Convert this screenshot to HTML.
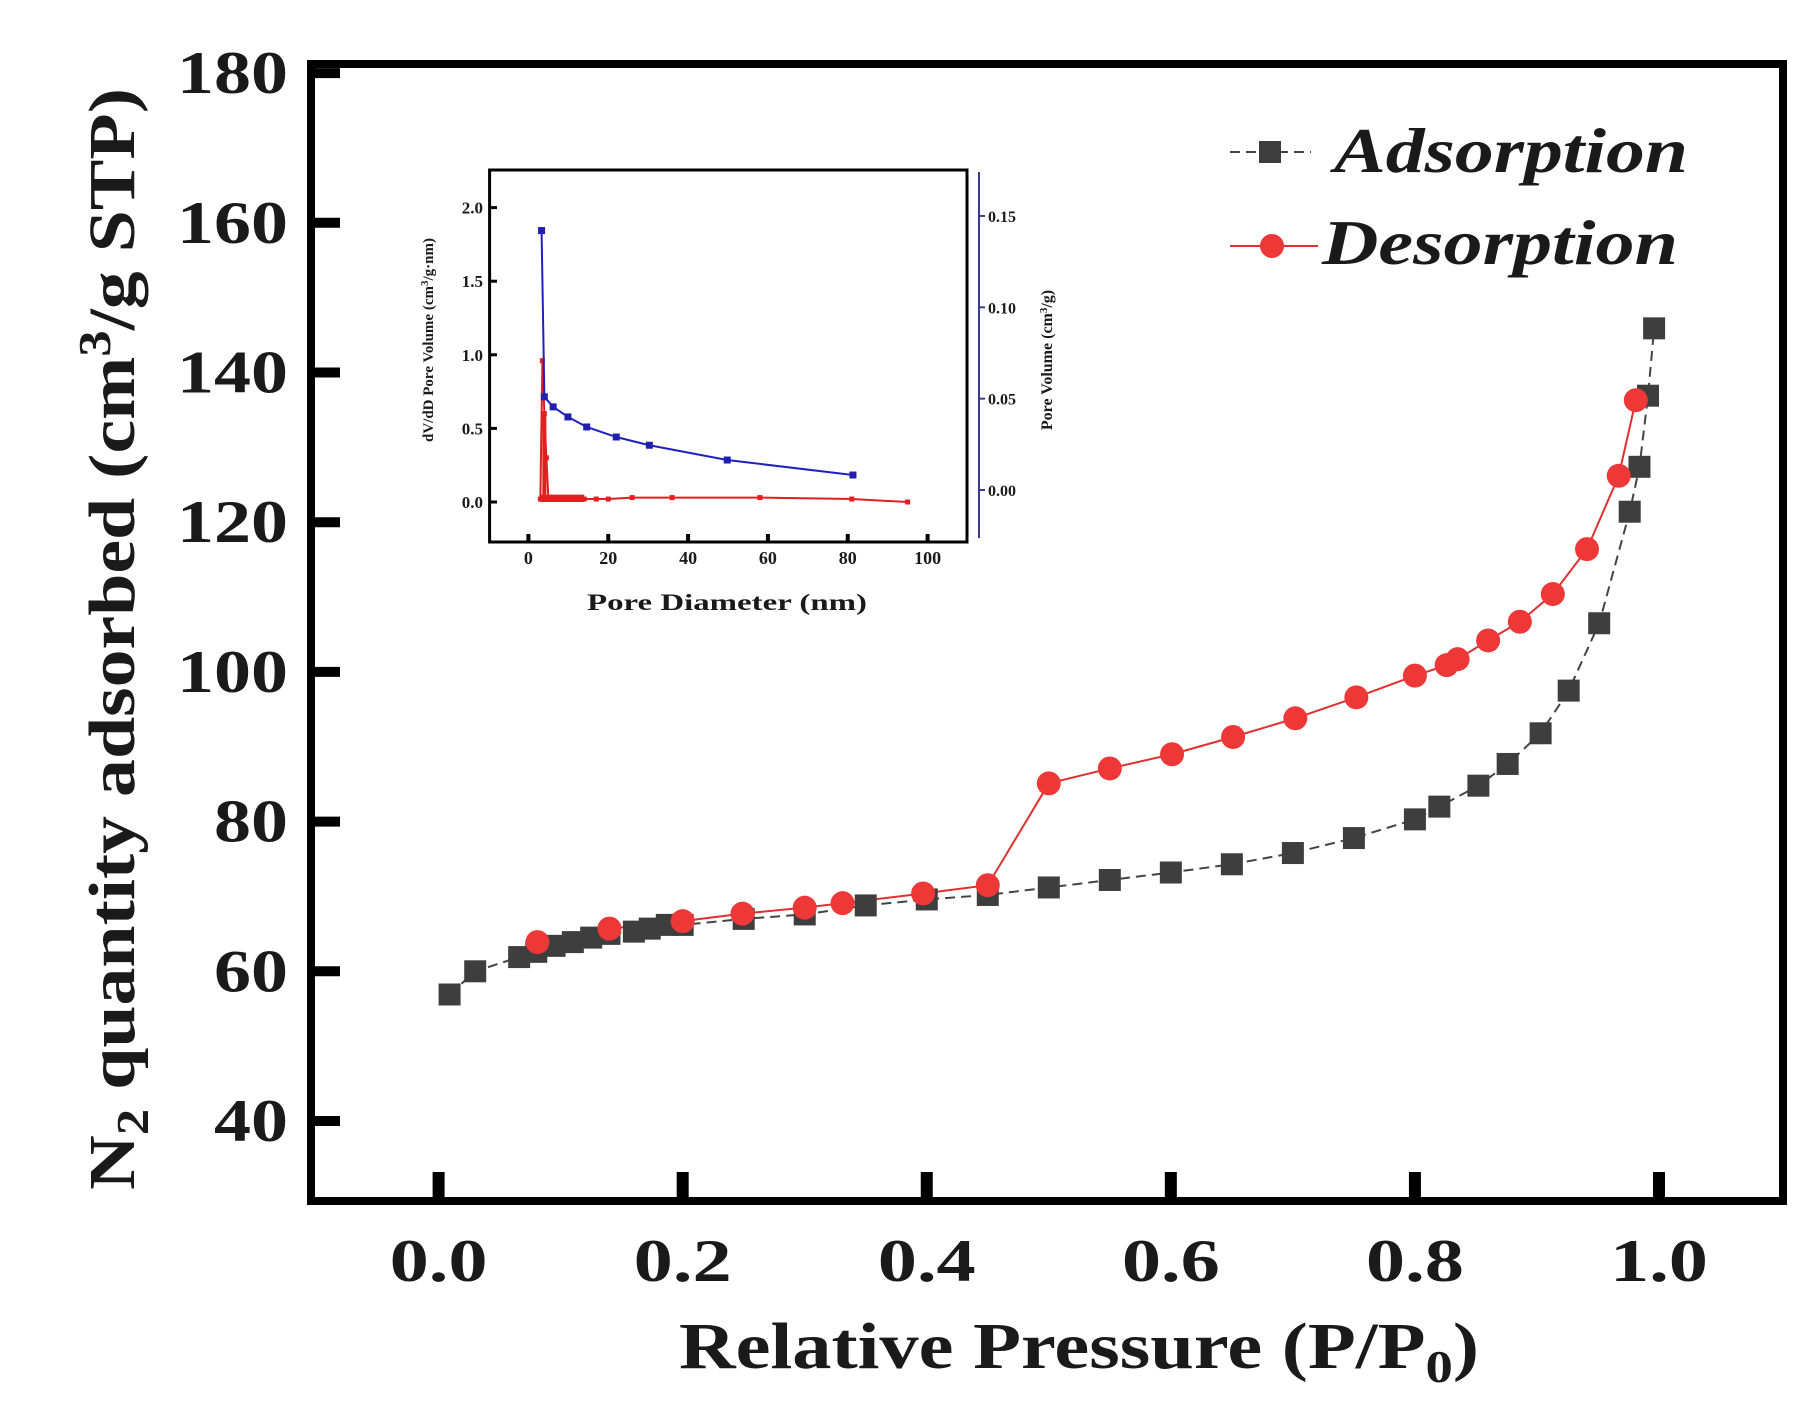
<!DOCTYPE html>
<html><head><meta charset="utf-8"><style>
html,body{margin:0;padding:0;background:#fff}
svg{display:block}
text{font-family:"Liberation Serif",serif;font-weight:bold;fill:#1a1a1a}
</style></head><body>
<svg id="chart" width="1819" height="1412" viewBox="0 0 1819 1412" xmlns="http://www.w3.org/2000/svg">
<g id="main"></g>
<g id="inset"></g>
</svg>
<script>
// main chart data
const adsP=[0.009,0.03,0.066,0.08,0.095,0.11,0.125,0.14,0.16,0.173,0.187,0.2,0.25,0.3,0.35,0.4,0.45,0.5,0.55,0.6,0.65,0.7,0.75,0.8,0.82,0.852,0.876,0.903,0.926,0.951,0.976,0.984,0.991,0.996];
const adsQ=[56.9,60,61.9,62.6,63.4,63.9,64.5,65,65.3,65.7,66.2,66.2,67,67.6,68.8,69.6,70.2,71.2,72.2,73.2,74.3,75.8,77.8,80.3,82,84.8,87.7,91.8,97.5,106.5,121.4,127.4,136.9,145.9];
const desP=[0.981,0.967,0.941,0.913,0.886,0.86,0.835,0.826,0.8,0.752,0.702,0.651,0.601,0.55,0.5,0.45,0.397,0.331,0.3,0.249,0.2,0.14,0.081];
const desQ=[136.3,126.2,116.4,110.4,106.7,104.2,101.7,100.9,99.5,96.6,93.8,91.3,89,87.1,85.1,71.5,70.4,69.1,68.5,67.7,66.7,65.7,63.9];
const xTicks=[0,0.2,0.4,0.6,0.8,1.0];
const xTickLabels=["0.0","0.2","0.4","0.6","0.8","1.0"];
const yTicks=[40,60,80,100,120,140,160,180];
// inset data
const blueD=[3.3,4,6.2,9.9,14.6,22,30.3,49.8,81.3];
const blueV=[0.142,0.051,0.0455,0.040,0.0345,0.029,0.0245,0.0164,0.0082];
const redD=[3,3.5,4,4.5,5,6,8,10,12,14,17,20,26,36,58,81,95];
const redV=[0.02,0.96,0.6,0.3,0.03,0.02,0.02,0.02,0.02,0.02,0.02,0.02,0.03,0.03,0.03,0.02,0.0];
const insetXTicks=[0,20,40,60,80,100];
const insetYTicks=[0,0.5,1.0,1.5,2.0];
const insetY2Ticks=[0,0.05,0.10,0.15];

const NS="http://www.w3.org/2000/svg";
function mk(parent,tag,attrs,txt){const e=document.createElementNS(NS,tag);for(const k in attrs)e.setAttribute(k,attrs[k]);if(txt!==undefined)e.textContent=txt;parent.appendChild(e);return e;}
const xS=p=>438.6+p*1220.4;
const yS=q=>1121-(q-40)*7.485;
const M=document.getElementById('main');
let f=mk(M,'rect',{x:311,y:64,width:1472,height:1137,fill:'none',stroke:'#000','stroke-width':8});


xTicks.forEach((t,i)=>{
  let tk=mk(M,'line',{x1:xS(t),x2:xS(t),y1:1201,y2:1172,stroke:'#000','stroke-width':12});
  
  
  let l=mk(M,'text',{x:xS(t),y:1281,'text-anchor':'middle','font-size':60,textLength:98,lengthAdjust:'spacingAndGlyphs'},xTickLabels[i]);
  
  
});
yTicks.forEach(t=>{
  let tk=mk(M,'line',{x1:311,x2:340,y1:yS(t),y2:yS(t),stroke:'#000','stroke-width':10});
  
  
  let s=String(t);
  let l=mk(M,'text',{x:288,y:yS(t)+20,'text-anchor':'end','font-size':60,textLength:s.length*37,lengthAdjust:'spacingAndGlyphs'},s);
  
  
});
function poly(xs,ys,col,name){let d=xs.map((x,i)=>xS(x)+','+yS(ys[i])).join(' ');let p=mk(M,'polyline',{points:d,fill:'none',stroke:col,'stroke-width':2,'stroke-dasharray':name==='adsorption-line'?'10,6':'none'});}
poly(adsP,adsQ,'#444','adsorption-line');
poly(desP,desQ,'#e03030','desorption-line');
adsP.forEach((p,i)=>{let r=mk(M,'rect',{x:xS(p)-11,y:yS(adsQ[i])-11,width:22,height:22,fill:'#3e3e3e'});});
desP.forEach((p,i)=>{let c=mk(M,'circle',{cx:xS(p),cy:yS(desQ[i]),r:12,fill:'#ee3838'});});
let xt=mk(M,'text',{x:679,y:1368,'font-size':66,textLength:800,lengthAdjust:'spacingAndGlyphs'});


xt.innerHTML='Relative Pressure (P/P<tspan dy="14" font-size="46">0</tspan><tspan dy="-14">)</tspan>';
let yt=mk(M,'text',{x:0,y:0,'font-size':66,textLength:1102,lengthAdjust:'spacingAndGlyphs',transform:'translate(134,1190) rotate(-90)'});


yt.innerHTML='N<tspan dy="14" font-size="46">2</tspan><tspan dy="-14"> quantity adsorbed  (cm</tspan><tspan dy="-24" font-size="46">3</tspan><tspan dy="24">/g STP)</tspan>';
let lg=mk(M,'g',{});


mk(lg,'line',{x1:1230,x2:1311,y1:152,y2:152,stroke:'#444','stroke-width':2,'stroke-dasharray':'10,6'});
mk(lg,'rect',{x:1259,y:141,width:22,height:22,fill:'#3e3e3e'});
let t1=mk(lg,'text',{x:1334,y:172,'font-size':64,'font-style':'italic',textLength:354,lengthAdjust:'spacingAndGlyphs'},'Adsorption');


mk(lg,'line',{x1:1230,x2:1318,y1:246,y2:246,stroke:'#e03030','stroke-width':2});
mk(lg,'circle',{cx:1272,cy:246,r:12,fill:'#ee3838'});
let t2=mk(lg,'text',{x:1322,y:264,'font-size':64,'font-style':'italic',textLength:356,lengthAdjust:'spacingAndGlyphs'},'Desorption');



// inset
const I=document.getElementById('inset');
const ix=d=>528.4+d*3.992;
const iy=v=>502-v*147.2;
const iy2=v=>490-v*1827;
let fr=mk(I,'rect',{x:489.6,y:170,width:477.4,height:372,fill:'#fff',stroke:'#000','stroke-width':3});


let ax2=mk(I,'line',{x1:979,x2:979,y1:172,y2:538,stroke:'#3a3a90','stroke-width':2});


insetXTicks.forEach(t=>{mk(I,'line',{x1:ix(t),x2:ix(t),y1:542,y2:534,stroke:'#000','stroke-width':4});
  let l=mk(I,'text',{x:ix(t),y:564,'text-anchor':'middle','font-size':18,'font-weight':'normal',fill:'#555'},String(t));
  
  });
insetYTicks.forEach(t=>{mk(I,'line',{x1:489.6,x2:497,y1:iy(t),y2:iy(t),stroke:'#000','stroke-width':3});
  let l=mk(I,'text',{x:483,y:iy(t)+6,'text-anchor':'end','font-size':17,'font-weight':'normal',fill:'#555'},t.toFixed(1));
  
  });
insetY2Ticks.forEach(t=>{mk(I,'line',{x1:979,x2:985,y1:iy2(t),y2:iy2(t),stroke:'#3a3a90','stroke-width':2});
  let l=mk(I,'text',{x:988,y:iy2(t)+6,'font-size':16,'font-weight':'normal',fill:'#3a3a90'},t.toFixed(2));
  
  });
let rl=mk(I,'polyline',{points:redD.map((d,i)=>ix(d)+','+iy(redV[i])).join(' '),fill:'none',stroke:'#e02020','stroke-width':2});


mk(I,'rect',{x:ix(3),y:iy(0.05),width:ix(14)-ix(3),height:iy(0)-iy(0.05),fill:'#e02020'});
mk(I,'rect',{x:ix(3.5),y:iy(0.6),width:4,height:iy(0)-iy(0.6),fill:'#e02020'});
redD.forEach((d,i)=>{let c=mk(I,'rect',{x:ix(d)-2.5,y:iy(redV[i])-2.5,width:5,height:5,fill:'#e02020'});});
let bl=mk(I,'polyline',{points:blueD.map((d,i)=>ix(d)+','+iy2(blueV[i])).join(' '),fill:'none',stroke:'#2020c0','stroke-width':2});


blueD.forEach((d,i)=>{let c=mk(I,'rect',{x:ix(d)-3.5,y:iy2(blueV[i])-3.5,width:7,height:7,fill:'#2020b0'});});
let it=mk(I,'text',{x:727,y:610,'text-anchor':'middle','font-size':23,fill:'#333',textLength:280,lengthAdjust:'spacingAndGlyphs'},'Pore Diameter (nm)');


let iyt=mk(I,'text',{x:0,y:0,'text-anchor':'middle','font-size':15,fill:'#333',transform:'translate(433,340) rotate(-90)'});


iyt.innerHTML='dV/dD Pore Volume (cm<tspan dy="-5" font-size="11">3</tspan><tspan dy="5">/g·nm)</tspan>';
let iyt2=mk(I,'text',{x:0,y:0,'text-anchor':'middle','font-size':16,fill:'#3a3a90',transform:'translate(1052,360) rotate(-90)'});


iyt2.innerHTML='Pore Volume (cm<tspan dy="-5" font-size="11">3</tspan><tspan dy="5">/g)</tspan>';
</script>
</body></html>
